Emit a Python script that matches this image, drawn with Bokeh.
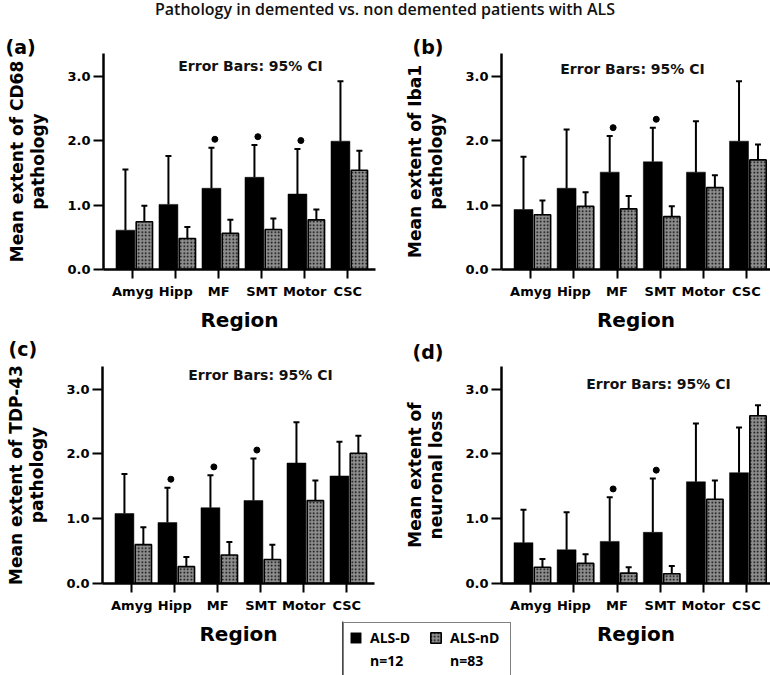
from bokeh.plotting import figure
from bokeh.models import (Range1d, FixedTicker, NumeralTickFormatter, ColumnDataSource,
                          Whisker, TeeHead, Label, Legend, LegendItem, Div)
from bokeh.layouts import column, row
from bokeh.transform import dodge
from bokeh.embed import file_html
from bokeh.resources import INLINE

# ---------------- data ----------------
regions = ["Amyg", "Hipp", "MF", "SMT", "Motor", "CSC"]
y_ticks = [0.0, 1.0, 2.0, 3.0]

# (a) CD68
cd68_d = [0.61, 1.01, 1.26, 1.43, 1.17, 1.99]
cd68_d_upper = [1.55, 1.76, 1.89, 1.93, 1.87, 2.92]
cd68_nd = [0.74, 0.48, 0.56, 0.62, 0.77, 1.54]
cd68_nd_upper = [0.99, 0.66, 0.77, 0.79, 0.93, 1.84]
cd68_sig = [0, 0, 1, 1, 1, 0]

# (b) Iba1
iba1_d = [0.93, 1.26, 1.51, 1.67, 1.51, 1.99]
iba1_d_upper = [1.75, 2.17, 2.07, 2.20, 2.30, 2.92]
iba1_nd = [0.85, 0.98, 0.94, 0.82, 1.27, 1.70]
iba1_nd_upper = [1.07, 1.20, 1.14, 0.98, 1.46, 1.94]
iba1_sig = [0, 0, 1, 1, 0, 0]

# (c) TDP-43
tdp_d = [1.08, 0.94, 1.17, 1.28, 1.86, 1.66]
tdp_d_upper = [1.69, 1.48, 1.67, 1.93, 2.49, 2.19]
tdp_nd = [0.60, 0.26, 0.44, 0.37, 1.28, 2.01]
tdp_nd_upper = [0.87, 0.41, 0.64, 0.60, 1.59, 2.28]
tdp_sig = [0, 1, 1, 1, 0, 0]

# (d) neuronal loss
nl_d = [0.63, 0.52, 0.65, 0.79, 1.57, 1.71]
nl_d_upper = [1.14, 1.10, 1.33, 1.62, 2.47, 2.41]
nl_nd = [0.25, 0.31, 0.16, 0.15, 1.30, 2.59]
nl_nd_upper = [0.38, 0.45, 0.25, 0.27, 1.59, 2.75]
nl_sig = [0, 0, 1, 1, 0, 0]

groups = ["ALS-D", "ALS-nD"]
group_n = ["n=12", "n=83"]

TITLE = "Pathology in demented vs. non demented patients with ALS"
ERR_TXT = "Error Bars: 95% CI"

# ---------------- styling ----------------
AX_FONT = "DejaVu Sans"
D_OFF, D_W = -0.17, 0.44
ND_OFF, ND_W = 0.27, 0.38
SIG_OFF, SIG_GAP = -0.09, 0.13
D_STYLE = dict(fill_color="black", line_color="black", line_width=0.5)
ND_STYLE = dict(fill_color="#8e8e8e", line_color="black", line_width=1.6,
                hatch_pattern="dot", hatch_color="black", hatch_scale=3.5, hatch_weight=1.3)


def make_panel(tag, ylabel, d, d_up, nd, nd_up, sig, width, height,
               b_left, b_right, b_top, b_bottom, x_end, tag_offset, tag_standoff, eb_xy, margin):
    idx = list(range(len(regions)))
    p = figure(width=width, height=height, output_backend="svg", toolbar_location=None,
               x_range=Range1d(-0.68, x_end), y_range=Range1d(0, 3.35),
               min_border_left=b_left, min_border_right=b_right,
               min_border_top=b_top, min_border_bottom=b_bottom, margin=margin)
    p.background_fill_alpha = 0
    p.border_fill_alpha = 0
    p.outline_line_color = None
    p.xgrid.visible = False
    p.ygrid.visible = False

    # panel tag as the figure title
    p.title.text = tag
    p.title.align = "left"
    p.title.offset = tag_offset
    p.title.standoff = tag_standoff
    p.title.text_font = AX_FONT
    p.title.text_font_style = "bold"
    p.title.text_font_size = "19px"
    p.title.text_color = "black"

    src = ColumnDataSource(dict(x=idx, d=d, d_up=d_up, nd=nd, nd_up=nd_up))
    p.vbar(x=dodge("x", D_OFF), top="d", width=D_W, source=src, **D_STYLE)
    p.vbar(x=dodge("x", ND_OFF), top="nd", width=ND_W, source=src, **ND_STYLE)
    for off, lo, up in ((D_OFF, "d", "d_up"), (ND_OFF, "nd", "nd_up")):
        w = Whisker(source=src, base=dodge("x", off), lower=lo, upper=up, dimension="height",
                    line_color="black", line_width=2, lower_head=None,
                    upper_head=TeeHead(size=6, line_width=2, line_color="black"))
        p.add_layout(w)

    sx = [i for i in idx if sig[i]]
    sy = [d_up[i] + SIG_GAP for i in idx if sig[i]]
    p.scatter(x=dodge("x", SIG_OFF), y="y", source=ColumnDataSource(dict(x=sx, y=sy)),
              marker="circle", size=6, fill_color="black", line_color="black")

    # axes
    p.xaxis.ticker = FixedTicker(ticks=idx)
    p.xaxis.major_label_overrides = {i: r for i, r in enumerate(regions)}
    p.yaxis.ticker = FixedTicker(ticks=y_ticks)
    p.yaxis.formatter = NumeralTickFormatter(format="0.0")
    for ax in (p.xaxis[0], p.yaxis[0]):
        ax.axis_line_width = 2.5
        ax.axis_line_color = "black"
        ax.major_tick_line_width = 2
        ax.major_tick_in = 0
        ax.minor_tick_line_color = None
        ax.major_label_text_font = AX_FONT
        ax.major_label_text_font_style = "bold"
        ax.major_label_text_font_size = "13px"
        ax.major_label_text_color = "black"
        ax.axis_label_text_font = AX_FONT
        ax.axis_label_text_font_style = "bold"
        ax.axis_label_text_color = "black"
    p.yaxis.major_tick_out = 10
    p.yaxis.major_label_standoff = 3
    p.yaxis.axis_label = ylabel
    p.yaxis.axis_label_text_font_size = "17px"
    p.yaxis.axis_label_text_line_height = 1.05
    p.yaxis.axis_label_standoff = 16
    p.xaxis.major_tick_out = 9
    p.xaxis.major_label_standoff = 5
    p.xaxis.axis_label = "Region"
    p.xaxis.axis_label_text_font_size = "20px"
    p.xaxis.axis_label_standoff = 6

    p.add_layout(Label(x=eb_xy[0], y=eb_xy[1], x_units="screen", y_units="screen", text=ERR_TXT,
                       text_font=AX_FONT, text_font_style="bold", text_font_size="14px",
                       text_baseline="middle", text_align="center", text_color="#111111"))
    return p


pa = make_panel("(a)", "Mean extent of CD68\npathology", cd68_d, cd68_d_upper, cd68_nd, cd68_nd_upper,
                cd68_sig, 395, 340, 103, 20, 30, 91, 5.645, -98, -9, (147, 204), 0)
pb = make_panel("(b)", "Mean extent of Iba1\npathology", iba1_d, iba1_d_upper, iba1_nd, iba1_nd_upper,
                iba1_sig, 375, 340, 106, 0, 33, 88, 5.56, -89, -8, (131, 201), 0)
pc = make_panel("(c)", "Mean extent of TDP-43\npathology", tdp_d, tdp_d_upper, tdp_nd, tdp_nd_upper,
                tdp_sig, 512, 346, 102, 138, 36, 92, 5.645, -94, 13, (158, 209), (-31, 0, 0, 0))
pd = make_panel("(d)", "Mean extent of\nneuronal loss", nl_d, nl_d_upper, nl_nd, nl_nd_upper,
                nl_sig, 375, 346, 106, 0, 37, 91, 5.56, -89, 8, (157, 200), (-31, 0, 0, -117))

# legend in its own small figure, overlapping the bottom row
pl = figure(width=170, height=54, output_backend="svg", toolbar_location=None,
            x_range=Range1d(0, 1), y_range=Range1d(0, 1), x_axis_location=None, y_axis_location=None,
            min_border=0, margin=(-54, 0, 0, 342))
pl.background_fill_alpha = 0
pl.border_fill_alpha = 0
pl.outline_line_color = None
pl.xgrid.visible = False
pl.ygrid.visible = False
# legend proxies: placed outside the visible range of this small figure
r_d = pl.vbar(x=[-10], top=[1], width=0.1, **D_STYLE)
r_nd = pl.vbar(x=[-10], top=[1], width=0.1, **ND_STYLE)
r_n1 = pl.vbar(x=[-10], top=[1], width=0.1, fill_alpha=0, line_alpha=0)
r_n2 = pl.vbar(x=[-10], top=[1], width=0.1, fill_alpha=0, line_alpha=0)
legend = Legend(items=[LegendItem(label=groups[0], renderers=[r_d]),
                       LegendItem(label=groups[1], renderers=[r_nd]),
                       LegendItem(label=group_n[0], renderers=[r_n1]),
                       LegendItem(label=group_n[1], renderers=[r_n2])],
                orientation="horizontal", ncols=2, location="top_left", margin=1,
                glyph_width=13, glyph_height=13, label_standoff=8, label_height=13, label_width=55,
                spacing=4, padding=5, border_line_color="black", border_line_width=1.5,
                background_fill_color="white", background_fill_alpha=1,
                label_text_font="Open Sans", label_text_font_style="bold", label_text_font_size="14px",
                label_text_color="black")
pl.add_layout(legend, "center")

title = Div(text=TITLE, width=770, height=20, margin=0,
            styles={"text-align": "center", "font-family": "Open Sans", "font-size": "16px",
                    "font-weight": "600", "line-height": "18px", "color": "#111111"})

layout = column(title, row(pa, pb), row(pc, pd), pl)

open("out.html", "w").write(file_html(layout, INLINE))
